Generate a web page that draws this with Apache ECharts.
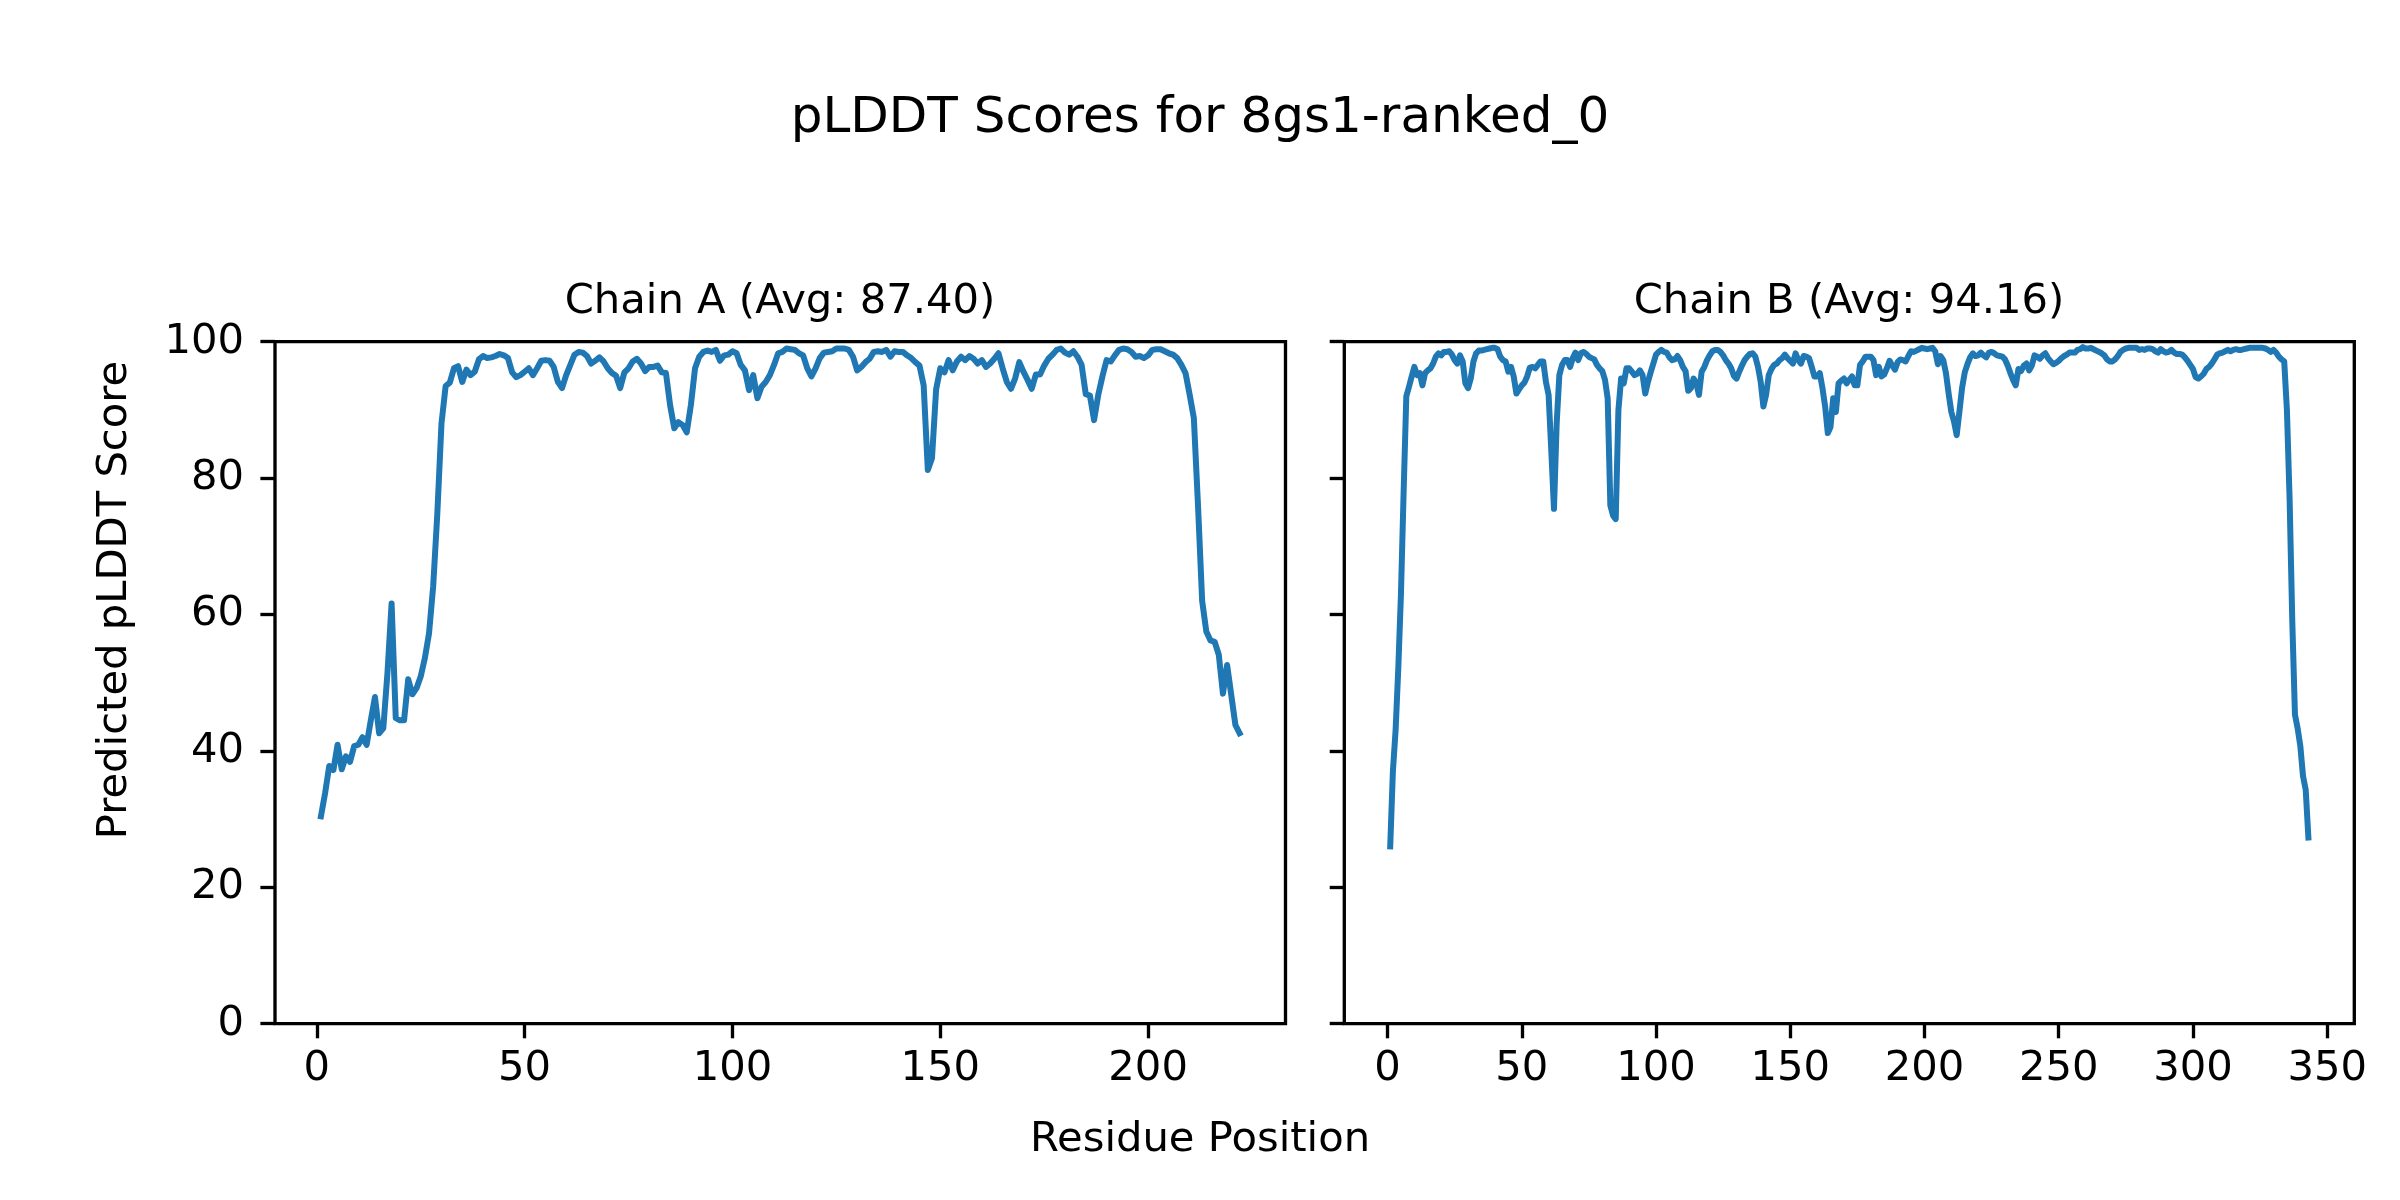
<!DOCTYPE html>
<html>
<head>
<meta charset="utf-8">
<script src="https://cdn.jsdelivr.net/npm/echarts@6/dist/echarts.min.js"></script>
<style>
html,body{margin:0;padding:0;background:#ffffff;}
#chart{width:2400px;height:1200px;}
</style>
</head>
<body>
<div id="chart"></div>
<script>
// ---- Data ----
const chainA = [
30.4,33.8,37.8,37.2,40.9,37.3,39.2,38.4,40.7,40.9,
42.0,40.9,44.5,47.9,42.6,43.3,51.4,61.6,44.8,44.5,
44.5,50.5,48.3,49.2,50.9,53.6,57.2,64.1,74.8,88.0,
93.5,94.0,96.1,96.4,94.1,95.9,95.1,95.6,97.4,97.9,
97.6,97.7,97.9,98.2,98.0,97.6,95.5,94.8,95.1,95.6,
96.1,95.1,96.1,97.2,97.3,97.2,96.3,94.1,93.2,95.1,
96.6,98.1,98.5,98.4,97.9,96.8,97.2,97.7,97.1,96.1,
95.4,95.0,93.2,95.5,96.1,97.1,97.5,96.8,95.7,96.3,
96.3,96.5,95.5,95.4,90.7,87.3,88.2,87.8,86.7,90.7,
96.1,97.8,98.5,98.7,98.5,98.8,97.2,98.0,98.1,98.6,
98.3,96.6,95.8,92.9,95.1,91.7,93.4,94.1,95.1,96.6,
98.3,98.5,99.0,98.9,98.8,98.3,98.0,96.1,94.9,96.1,
97.6,98.4,98.5,98.6,99.0,99.0,99.0,98.8,97.8,95.8,
96.3,97.0,97.5,98.5,98.6,98.5,98.8,97.8,98.6,98.5,
98.5,98.0,97.6,97.0,96.5,93.6,81.2,82.9,93.0,96.1,
95.5,97.3,95.8,97.1,97.8,97.3,97.9,97.5,96.8,97.3,
96.3,96.8,97.5,98.3,96.1,94.1,93.1,94.6,97.0,95.6,
94.4,93.1,95.2,95.2,96.5,97.5,98.1,98.8,99.0,98.4,
98.1,98.6,97.8,96.6,92.3,92.1,88.5,92.2,94.9,97.3,
97.1,98.0,98.8,99.0,98.9,98.5,97.8,97.9,97.6,98.0,
98.8,98.9,98.9,98.6,98.3,98.1,97.6,96.6,95.4,92.2,
88.8,76.0,62.0,57.5,56.2,56.0,54.1,48.4,52.6,48.2,
43.8,42.6
];
const chainB = [
26.0,37.0,43.0,52.0,63.0,78.0,92.0,93.4,94.9,96.3,
95.1,95.4,93.6,95.4,95.8,96.1,96.8,97.8,98.3,98.0,
98.5,98.5,98.6,98.1,97.3,96.8,98.0,97.1,93.9,93.2,
94.6,97.1,98.3,98.7,98.7,98.8,98.9,99.0,99.1,99.1,
98.9,97.8,97.3,97.1,95.6,96.3,94.9,92.4,93.0,93.6,
94.0,94.9,96.2,96.3,96.1,96.6,97.1,97.1,94.1,92.2,
84.0,75.5,88.0,95.1,96.6,97.3,97.3,96.3,97.6,98.4,
97.3,98.3,98.5,98.2,97.8,97.6,97.4,96.6,96.1,95.7,
94.4,91.7,76.0,74.5,74.0,90.0,94.6,93.9,96.1,96.1,
95.6,95.1,95.3,95.8,95.1,92.4,94.1,95.5,96.8,98.1,
98.5,98.8,98.5,98.4,97.7,97.3,97.4,97.9,97.3,96.3,
95.7,92.8,93.2,94.6,93.9,92.2,95.6,96.3,97.3,98.0,
98.6,98.8,98.8,98.5,98.0,97.3,96.8,96.1,95.0,94.6,
95.6,96.5,97.3,97.8,98.2,98.3,97.8,96.3,94.1,90.5,
92.2,95.1,96.0,96.6,96.8,97.3,97.6,98.1,97.6,97.2,
96.8,98.3,97.3,96.8,97.9,97.8,97.6,96.3,94.9,94.9,
95.4,93.2,90.5,86.6,87.5,91.7,89.7,93.9,94.3,94.6,
93.9,94.4,94.9,93.6,93.6,96.6,97.1,97.8,97.8,97.8,
97.3,95.1,96.3,94.9,95.2,96.1,97.2,96.5,95.9,97.0,
97.4,97.3,97.1,97.9,98.6,98.5,98.7,98.9,99.1,99.0,
98.9,99.0,99.1,98.6,96.7,97.9,97.3,95.4,92.4,89.7,
88.3,86.3,89.7,93.2,95.5,96.7,97.7,98.3,97.9,98.0,
98.4,98.0,97.7,98.4,98.5,98.3,98.0,97.9,97.8,97.4,
96.5,95.4,94.4,93.6,96.0,95.7,96.5,96.8,95.8,96.5,
98.0,97.8,97.5,98.0,98.3,97.6,97.1,96.7,96.9,97.2,
97.6,97.9,98.1,98.4,98.4,98.4,98.8,98.9,99.2,99.0,
99.0,99.1,98.9,98.7,98.5,98.3,98.0,97.4,97.1,97.1,
97.4,97.9,98.5,98.8,99.0,99.1,99.1,99.1,99.1,98.8,
98.9,98.8,99.0,99.0,98.9,98.6,98.4,98.9,98.6,98.4,
98.5,98.8,98.4,98.2,98.2,98.1,97.7,97.2,96.6,96.0,
94.8,94.6,94.9,95.3,96.0,96.3,96.8,97.4,98.1,98.3,
98.4,98.6,98.8,98.6,98.8,98.9,98.8,98.8,98.9,99.0,
99.1,99.1,99.1,99.1,99.1,99.1,99.0,98.8,98.5,98.8,
98.4,97.8,97.4,97.1,90.0,77.0,59.0,45.3,43.3,40.7,
36.3,34.3,27.3
];
const xTicksA = [0, 50, 100, 150, 200];
const xTicksB = [0, 50, 100, 150, 200, 250, 300, 350];
const yTicks = [0, 20, 40, 60, 80, 100];
const mainTitle = 'pLDDT Scores for 8gs1-ranked_0';
const titleA = 'Chain A (Avg: 87.40)';
const titleB = 'Chain B (Avg: 94.16)';
const xLabel = 'Residue Position';
const yLabel = 'Predicted pLDDT Score';

// ---- Build ----
const FONT = '"DejaVu Sans", "Liberation Sans", sans-serif';
const TICK_FS = 41.7;
const LW = 3.33;
function pts(arr){ return arr.map((v, i) => [i + 1, v]); }
function xr(n){ const m = (n - 1) * 0.05; return [1 - m, n + m]; }
const rA = xr(chainA.length), rB = xr(chainB.length);

const gridCommon = {top: 341.7, height: 682, show: true, borderColor: '#000', borderWidth: LW, backgroundColor: 'transparent'};
function xAxisDef(idx, range, ticks){
  return {
    type: 'value', gridIndex: idx, min: range[0], max: range[1],
    splitLine: {show: false},
    axisLine: {show: false, onZero: false},
    axisTick: {show: true, length: 14.6, lineStyle: {color: '#000', width: LW}, customValues: ticks},
    axisLabel: {show: true, customValues: ticks, fontSize: TICK_FS, fontFamily: FONT, color: '#000', margin: 24}
  };
}
function yAxisDef(idx, showLabel){
  return {
    type: 'value', gridIndex: idx, min: yTicks[0], max: yTicks[yTicks.length - 1], interval: 20,
    splitLine: {show: false},
    axisLine: {show: false, onZero: false},
    axisTick: {show: true, length: 14.6, lineStyle: {color: '#000', width: LW}},
    axisLabel: {show: showLabel, fontSize: TICK_FS, fontFamily: FONT, color: '#000', margin: 31}
  };
}
function txt(x, y, text, fs, rot){
  return {type: 'text', x: x, y: y, rotation: rot || 0, silent: true,
    style: {text: text, x: 0, y: 0, font: fs + 'px ' + FONT, fill: '#000',
      textAlign: 'center', textVerticalAlign: 'middle', align: 'center', verticalAlign: 'middle'}};
}

const chart = echarts.init(document.getElementById('chart'), null, {renderer: 'canvas', width: 2400, height: 1200});
chart.setOption({
  animation: false,
  backgroundColor: '#ffffff',
  grid: [
    Object.assign({left: 275, width: 1010.5}, gridCommon),
    Object.assign({left: 1344.3, width: 1010}, gridCommon)
  ],
  xAxis: [xAxisDef(0, rA, xTicksA), xAxisDef(1, rB, xTicksB)],
  yAxis: [yAxisDef(0, true), yAxisDef(1, false)],
  series: [
    {type: 'line', xAxisIndex: 0, yAxisIndex: 0, data: pts(chainA), showSymbol: false, symbol: 'none',
     lineStyle: {color: '#1f77b4', width: 6, join: 'round', cap: 'square'}, itemStyle: {color: '#1f77b4'}},
    {type: 'line', xAxisIndex: 1, yAxisIndex: 1, data: pts(chainB), showSymbol: false, symbol: 'none',
     lineStyle: {color: '#1f77b4', width: 6, join: 'round', cap: 'square'}, itemStyle: {color: '#1f77b4'}}
  ],
  graphic: [
    txt(1200, 119, mainTitle, 50),
    txt(780, 302, titleA, 41.7),
    txt(1849, 302, titleB, 41.7),
    txt(1200, 1140, xLabel, 41.7),
    txt(115, 600, yLabel, 41.7, Math.PI / 2)
  ]
});
</script>
</body>
</html>
